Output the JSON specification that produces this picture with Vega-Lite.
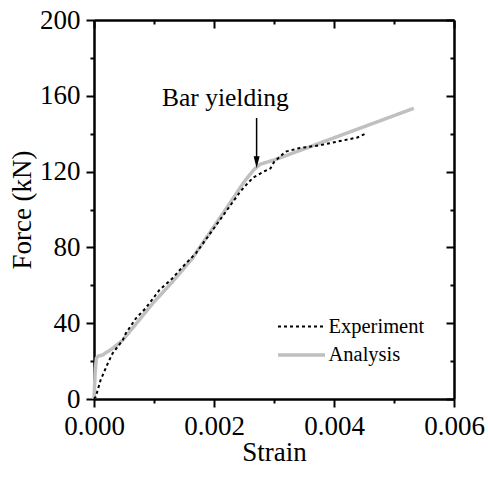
{
  "$schema": "https://vega.github.io/schema/vega-lite/v6.json",
  "width": 360,
  "height": 379,
  "autosize": "none",
  "padding": {"left": 94, "top": 20, "right": 34, "bottom": 81},
  "config": {
    "font": "Liberation Serif",
    "view": {"stroke": null},
    "axis": {
      "domainColor": "black", "domainWidth": 2.5, "tickColor": "black", "tickWidth": 2,
      "labelFont": "Liberation Serif", "labelFontSize": 27, "labelColor": "black",
      "titleFont": "Liberation Serif", "titleFontSize": 27, "titleFontWeight": "normal", "titleColor": "black",
      "grid": false, "labelOverlap": false, "labelFlush": false
    }
  },
  "data": {"values": [
    {"s": "Analysis", "x": 0, "y": 0},
    {"s": "Analysis", "x": 0.00001, "y": 7},
    {"s": "Analysis", "x": 0.00002, "y": 15},
    {"s": "Analysis", "x": 0.00004, "y": 21.5},
    {"s": "Analysis", "x": 0.00007, "y": 22.6},
    {"s": "Analysis", "x": 0.00014, "y": 23.2},
    {"s": "Analysis", "x": 0.00031, "y": 26.7},
    {"s": "Analysis", "x": 0.00048, "y": 31.1},
    {"s": "Analysis", "x": 0.00064, "y": 37.3},
    {"s": "Analysis", "x": 0.00098, "y": 50.5},
    {"s": "Analysis", "x": 0.00131, "y": 61.9},
    {"s": "Analysis", "x": 0.00164, "y": 74.2},
    {"s": "Analysis", "x": 0.00174, "y": 79},
    {"s": "Analysis", "x": 0.002, "y": 91},
    {"s": "Analysis", "x": 0.0023, "y": 105},
    {"s": "Analysis", "x": 0.0025, "y": 114.5},
    {"s": "Analysis", "x": 0.0026, "y": 118.5},
    {"s": "Analysis", "x": 0.00268, "y": 121.5},
    {"s": "Analysis", "x": 0.00278, "y": 124},
    {"s": "Analysis", "x": 0.003, "y": 126.1},
    {"s": "Analysis", "x": 0.00533, "y": 153.4},
    {"s": "Experiment", "x": 0, "y": 0},
    {"s": "Experiment", "x": 0.00003, "y": 1.2},
    {"s": "Experiment", "x": 0.00011, "y": 10},
    {"s": "Experiment", "x": 0.00023, "y": 18.8},
    {"s": "Experiment", "x": 0.00031, "y": 24.1},
    {"s": "Experiment", "x": 0.00048, "y": 31.1},
    {"s": "Experiment", "x": 0.00053, "y": 34.7},
    {"s": "Experiment", "x": 0.0007, "y": 42.6},
    {"s": "Experiment", "x": 0.00086, "y": 47.9},
    {"s": "Experiment", "x": 0.00109, "y": 57.5},
    {"s": "Experiment", "x": 0.0013, "y": 63.5},
    {"s": "Experiment", "x": 0.00148, "y": 69.8},
    {"s": "Experiment", "x": 0.0017, "y": 77},
    {"s": "Experiment", "x": 0.00186, "y": 84},
    {"s": "Experiment", "x": 0.00211, "y": 95},
    {"s": "Experiment", "x": 0.00228, "y": 102.5},
    {"s": "Experiment", "x": 0.00244, "y": 109.5},
    {"s": "Experiment", "x": 0.00258, "y": 114.5},
    {"s": "Experiment", "x": 0.00266, "y": 117},
    {"s": "Experiment", "x": 0.00283, "y": 120},
    {"s": "Experiment", "x": 0.00294, "y": 121.7},
    {"s": "Experiment", "x": 0.003, "y": 125},
    {"s": "Experiment", "x": 0.00319, "y": 130.5},
    {"s": "Experiment", "x": 0.00341, "y": 132.3},
    {"s": "Experiment", "x": 0.00378, "y": 134},
    {"s": "Experiment", "x": 0.00405, "y": 135.8},
    {"s": "Experiment", "x": 0.00439, "y": 138},
    {"s": "Experiment", "x": 0.00452, "y": 140}
  ]},
  "layer": [
    {
      "mark": {"type": "line", "opacity": 0},
      "encoding": {
        "x": {"field": "x", "type": "quantitative", "scale": {"domain": [0, 0.006], "nice": false, "zero": false},
          "axis": {"orient": "top", "values": [0, 0.001, 0.002, 0.003, 0.004, 0.005, 0.006], "labels": false, "title": null,
            "tickSize": {"condition": {"test": "round(datum.value*1000) % 2 == 1", "value": -4}, "value": -8}}},
        "y": {"field": "y", "type": "quantitative", "scale": {"domain": [0, 200], "nice": false},
          "axis": {"orient": "right", "values": [0, 20, 40, 60, 80, 100, 120, 140, 160, 180, 200], "labels": false, "title": null,
            "tickSize": {"condition": {"test": "datum.value % 40 != 0", "value": -4}, "value": -8}}},
        "detail": {"field": "s"}
      }
    },
    {
      "mark": {"type": "line"},
      "encoding": {
        "x": {"field": "x", "type": "quantitative",
          "axis": {"orient": "bottom", "values": [0, 0.001, 0.002, 0.003, 0.004, 0.005, 0.006], "title": "Strain",
            "labelExpr": "round(datum.value*1000) % 2 == 0 ? format(datum.value, '.3f') : ''",
            "labelPadding": 6, "titlePadding": 0,
            "tickSize": {"condition": {"test": "round(datum.value*1000) % 2 == 1", "value": 4}, "value": 8}}},
        "y": {"field": "y", "type": "quantitative",
          "axis": {"orient": "left", "values": [0, 20, 40, 60, 80, 100, 120, 140, 160, 180, 200], "title": "Force (kN)",
            "labelExpr": "datum.value % 40 == 0 ? datum.label : ''",
            "labelPadding": 6, "titlePadding": 3,
            "tickSize": {"condition": {"test": "datum.value % 40 != 0", "value": 4}, "value": 8}}},
        "color": {"field": "s", "type": "nominal",
          "scale": {"domain": ["Experiment", "Analysis"], "range": ["black", "#c0c0c0"]},
          "legend": {"orient": "none", "legendX": 195.5, "legendY": 295.5, "title": null,
            "symbolType": "M-2.35,0L2.35,0", "symbolSize": 400, "labelFontSize": 20.5, "labelFont": "Liberation Serif", "labelColor": "black",
            "rowPadding": 5.5, "labelOffset": 15}},
        "strokeDash": {"field": "s", "type": "nominal",
          "scale": {"domain": ["Experiment", "Analysis"], "range": [[3, 3], [1, 0]]}},
        "strokeWidth": {"field": "s", "type": "nominal",
          "scale": {"domain": ["Experiment", "Analysis"], "range": [2, 3.5]}}
      }
    },
    {
      "data": {"values": [{"x": 0.00219, "y": 154.8, "t": "Bar yielding"}]},
      "mark": {"type": "text", "fontSize": 25.5, "font": "Liberation Serif", "baseline": "alphabetic", "align": "center", "color": "black"},
      "encoding": {
        "x": {"field": "x", "type": "quantitative", "axis": null},
        "y": {"field": "y", "type": "quantitative", "axis": null},
        "text": {"field": "t"}
      }
    },
    {
      "data": {"values": [{"x": 0.00271, "y": 148.3, "y2": 125}]},
      "mark": {"type": "rule", "strokeWidth": 1.5, "color": "black"},
      "encoding": {
        "x": {"field": "x", "type": "quantitative", "axis": null},
        "y": {"field": "y", "type": "quantitative", "axis": null},
        "y2": {"field": "y2"}
      }
    },
    {
      "data": {"values": [{"x": 0.00271, "y": 125}]},
      "mark": {"type": "point", "shape": "M-0.5,-1L0.5,-1L0,1Z", "size": 144, "filled": true, "color": "black", "opacity": 1},
      "encoding": {
        "x": {"field": "x", "type": "quantitative", "axis": null},
        "y": {"field": "y", "type": "quantitative", "axis": null}
      }
    }
  ],
  "resolve": {"axis": {"x": "independent", "y": "independent"}}
}
